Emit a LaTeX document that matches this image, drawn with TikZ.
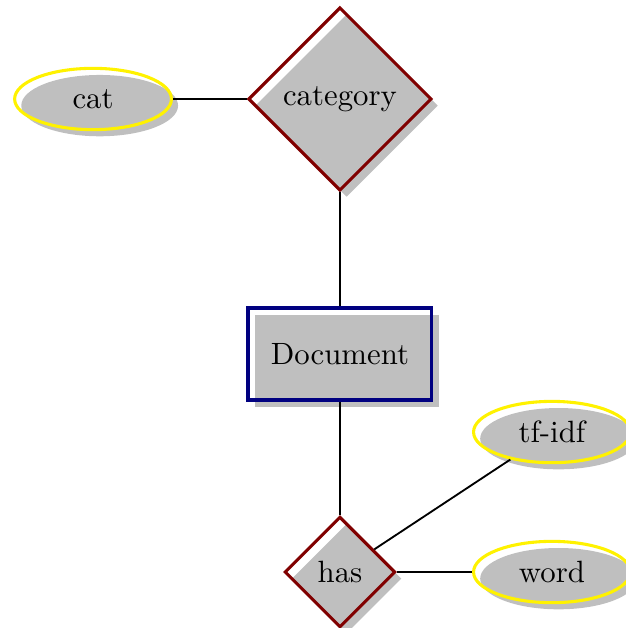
\documentclass[tikz,border=0pt]{standalone}
\usetikzlibrary{shapes.geometric,shadows}

\begin{document}
\begin{tikzpicture}[
		entity/.style={rectangle, draw=blue!50!black, line width=1pt, drop shadow,
			minimum width=2.1cm, minimum height=1.05cm},
		relation/.style={diamond, aspect=1, draw=red!50!black, line width=1pt,
			inner sep=3.6pt, drop shadow},
		attrib/.style={ellipse, draw=yellow, line width=1pt, drop shadow,
			minimum width=1.79cm, minimum height=0.7cm},
		link/.style={semithick}
	]
	\useasboundingbox (0,0) rectangle (7.146,7.169);
	% Entidad central
	\node[entity] (doc) at (3.881,3.128) {Document};
	% Relaciones
	\node[relation] (category) at (3.881,6.039) {category};
	\node[relation] (has) at (3.881,0.639) {has};
	% Atributos
	\node[attrib] (cat) at (1.062,6.039) {cat};
	\node[attrib] (tfidf) at (6.301,2.237) {tf-idf};
	\node[attrib] (word) at (6.301,0.639) {word};
	% Conexiones
	\draw[link] (cat) -- (category);
	\draw[link] (category) -- (doc);
	\draw[link] (doc) -- (has);
	\draw[link] (has) -- (tfidf);
	\draw[link] (has) -- (word);
\end{tikzpicture}
\end{document}
